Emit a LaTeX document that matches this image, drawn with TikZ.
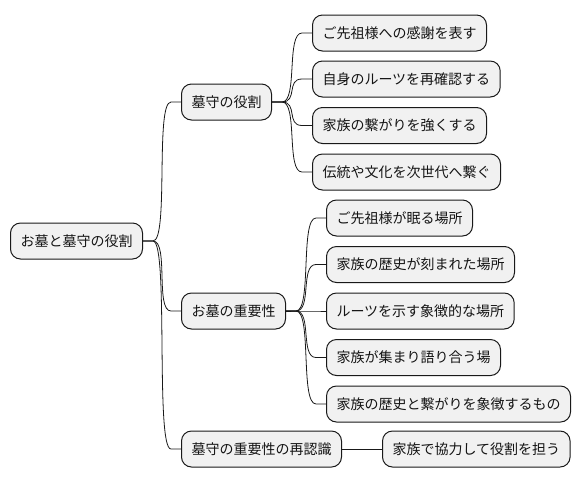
\documentclass[tikz,border=0pt]{standalone}
\usepackage{fontspec}
\setmainfont{Noto Sans CJK JP}
\usetikzlibrary{calc}
\tikzset{
  box/.style={draw=black!90, line width=1pt, fill=black!5.5, rounded corners=10pt,
    minimum height=36pt, inner xsep=10pt, inner ysep=0pt, anchor=west,
    font=\fontsize{14pt}{16pt}\selectfont, text=black!92},
  conn/.style={draw=black!90, line width=0.8pt}
}
\newcommand{\branch}[3]{%
  \draw[conn] (#1.east) -- ++(10pt,0) .. controls +(#3pt,0) and +(-#3pt,0) .. ($(#2.west)+(-10pt,0)$) -- (#2.west);}
\begin{document}
\begin{tikzpicture}[x=1pt,y=-1pt]
\useasboundingbox (0,0) rectangle (580,483);
\node[box] (root) at (10,241) {お墓と墓守の役割};
\node[box] (a) at (181,102) {墓守の役割};
\node[box] (b) at (181,311) {お墓の重要性};
\node[box] (c) at (181,449) {墓守の重要性の再認識};
\node[box] (a1) at (312,33) {ご先祖様への感謝を表す};
\node[box] (a2) at (312,79) {自身のルーツを再確認する};
\node[box] (a3) at (312,125.5) {家族の繋がりを強くする};
\node[box] (a4) at (312,172) {伝統や文化を次世代へ繋ぐ};
\node[box] (b1) at (326,218) {ご先祖様が眠る場所};
\node[box] (b2) at (326,264.5) {家族の歴史が刻まれた場所};
\node[box] (b3) at (326,311) {ルーツを示す象徴的な場所};
\node[box] (b4) at (326,357.5) {家族が集まり語り合う場};
\node[box] (b5) at (326,404) {家族の歴史と繋がりを象徴するもの};
\node[box] (c1) at (382,449) {家族で協力して役割を担う};
\branch{root}{a}{16}
\branch{root}{b}{16}
\branch{root}{c}{16}
\branch{a}{a1}{16}
\branch{a}{a2}{16}
\branch{a}{a3}{16}
\branch{a}{a4}{16}
\branch{b}{b1}{16}
\branch{b}{b2}{16}
\branch{b}{b3}{16}
\branch{b}{b4}{16}
\branch{b}{b5}{16}
\draw[conn] (c.east) -- (c1.west);
\end{tikzpicture}
\end{document}
